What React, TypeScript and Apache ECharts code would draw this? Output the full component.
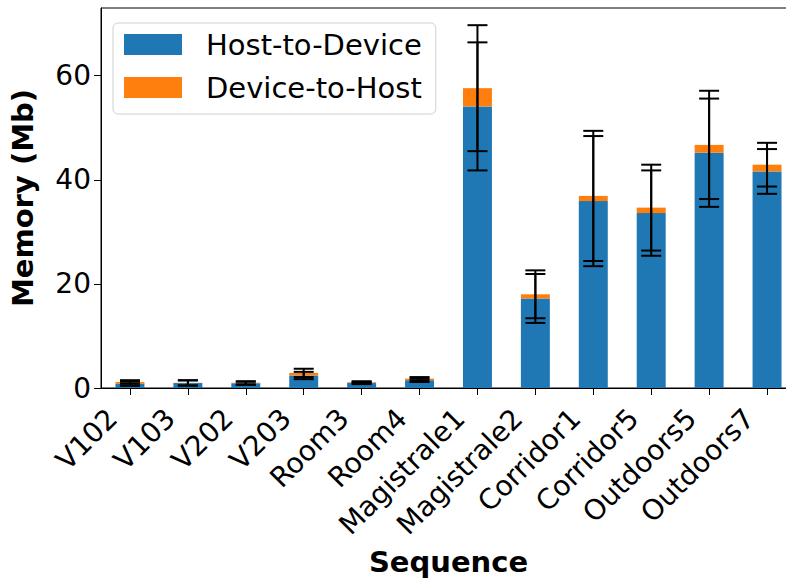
import React, { useEffect, useRef } from "react";
import * as echarts from "echarts";

const categories = ["V102", "V103", "V202", "V203", "Room3", "Room4", "Magistrale1", "Magistrale2", "Corridor1", "Corridor5", "Outdoors5", "Outdoors7"];
const hostToDevice = [0.8, 0.95, 0.9, 2.4, 0.95, 1.5, 54.1, 17.2, 35.9, 33.6, 45.2, 41.6];
const deviceToHost = [0.35, 0.05, 0.1, 0.5, 0.15, 0.3, 3.5, 0.8, 1.0, 1.05, 1.5, 1.3];
const hostToDeviceErr = [0.4, 0.5, 0.3, 0.7, 0.2, 0.35, 12.3, 4.7, 12.5, 8.2, 10.4, 4.3];
const deviceToHostErr = [0.35, 0.5, 0.3, 0.8, 0.2, 0.3, 12.1, 4.6, 12.5, 8.25, 10.4, 4.2];
const yTicks = [0, 20, 40, 60];

const FONT = "DejaVu Sans";

export default function App() {
  const ref = useRef<HTMLDivElement>(null);
  useEffect(() => {
    if (!ref.current) return;
    const chart = echarts.init(ref.current, null, { renderer: "svg" });
    const errH = categories.map((_, i) => [i, hostToDevice[i] - hostToDeviceErr[i], hostToDevice[i] + hostToDeviceErr[i]]);
    const errD = categories.map((_, i) => {
      const top = hostToDevice[i] + deviceToHost[i];
      return [i, top - deviceToHostErr[i], top + deviceToHostErr[i]];
    });
    const renderErr = (params: any, api: any) => {
      const x = api.value(0);
      const lo = api.coord([x, api.value(1)]);
      const hi = api.coord([x, api.value(2)]);
      const hw = 10;
      const st = { stroke: "#000", lineWidth: 2 };
      return {
        type: "group",
        children: [
          { type: "line", shape: { x1: lo[0], y1: lo[1], x2: hi[0], y2: hi[1] }, style: st },
          { type: "line", shape: { x1: lo[0] - hw, y1: lo[1], x2: lo[0] + hw, y2: lo[1] }, style: st },
          { type: "line", shape: { x1: hi[0] - hw, y1: hi[1], x2: hi[0] + hw, y2: hi[1] }, style: st },
        ],
      };
    };
    chart.setOption({
      animation: false,
      backgroundColor: "#fff",
      grid: { left: 98, top: 8, width: 698, height: 383, show: true, borderColor: "#000", borderWidth: 1, backgroundColor: "transparent" },
      legend: {
        orient: "vertical",
        left: 113,
        top: 23,
        data: ["Host-to-Device", "Device-to-Host"],
        icon: "rect",
        itemWidth: 58,
        itemHeight: 21,
        itemGap: 14,
        padding: [7, 14, 12, 11],
        backgroundColor: "#fff",
        borderColor: "#d0d0d0",
        borderWidth: 1,
        borderRadius: 5,
        textStyle: { fontFamily: FONT, fontSize: 29, color: "#000", lineHeight: 29, padding: [0, 0, 0, 19] },
      },
      xAxis: {
        type: "category",
        data: categories,
        name: "Sequence",
        nameLocation: "middle",
        nameGap: 159,
        nameTextStyle: { fontFamily: FONT, fontSize: 29, fontWeight: "bold", color: "#000" },
        axisLine: { lineStyle: { color: "#000", width: 1 } },
        axisTick: { show: true, alignWithLabel: true, length: 7, lineStyle: { color: "#000" } },
        axisLabel: { rotate: 45, interval: 0, margin: 8, fontFamily: FONT, fontSize: 28, color: "#000", padding: [0, 25, 0, 0] },
      },
      yAxis: {
        type: "value",
        min: 0,
        max: 73,
        interval: 20,
        name: "Memory (Mb)",
        nameLocation: "middle",
        nameGap: 64,
        nameTextStyle: { fontFamily: FONT, fontSize: 29, fontWeight: "bold", color: "#000" },
        splitLine: { show: false },
        axisLine: { show: true, lineStyle: { color: "#000", width: 1 } },
        axisTick: { show: true, length: 7, lineStyle: { color: "#000" }, customValues: yTicks },
        axisLabel: { margin: 10, fontFamily: FONT, fontSize: 28, color: "#000", customValues: yTicks },
      },
      series: [
        { name: "Host-to-Device", type: "bar", stack: "total", data: hostToDevice, barWidth: "50%", itemStyle: { color: "#1f77b4" } },
        { name: "Device-to-Host", type: "bar", stack: "total", data: deviceToHost, barWidth: "50%", itemStyle: { color: "#ff7f0e" } },
        { name: "errH", type: "custom", renderItem: renderErr, data: errH, encode: { x: 0, y: [1, 2] }, z: 10, clip: false },
        { name: "errD", type: "custom", renderItem: renderErr, data: errD, encode: { x: 0, y: [1, 2] }, z: 10, clip: false },
      ],
    });
    return () => chart.dispose();
  }, []);
  return (
    <div style={{ position: "absolute", left: 0, top: 0, width: 786, height: 581, overflow: "hidden" }}>
      <div ref={ref} style={{ width: 820, height: 581 }} />
    </div>
  );
}
